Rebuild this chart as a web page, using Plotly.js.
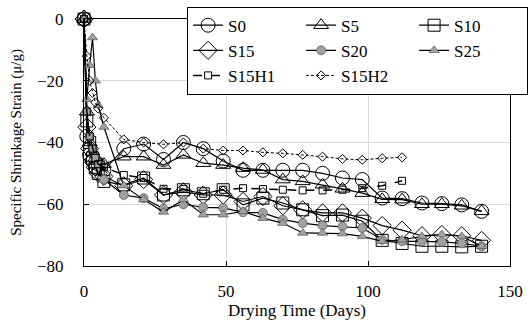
<!DOCTYPE html>
<html>
<head>
<meta charset="utf-8">
<script src="https://cdn.plot.ly/plotly-3.0.1.min.js"></script>
<style>html,body{margin:0;padding:0;background:#fff;}#chart{width:532px;height:325px;}</style>
</head>
<body>
<div id="chart"></div>
<script>
// Drying time (days)
var daysFull = [0,1,2,3,4,5,7,14,21,28,35,42,49,56,63,70,77,84,91,98,105,112,119,126,133,140];
var daysShort = [0,1,2,3,4,5,7,14,21,28,35,42,49,56,63,70,77,84,91,98,105,112];

// Specific shrinkage strain (µ/g)
var S0 = [0,-38,-44,-46,-48,-47,-49,-42,-40.5,-45.5,-40,-42,-46,-49,-49,-49,-49,-50,-51.5,-52,-58,-58.2,-59.6,-59.8,-60.2,-62.3];
var S5 = [0,-30,-40,-43,-45,-46,-47,-44.6,-44.6,-47.3,-44,-46.7,-47.3,-48.3,-48.9,-52,-52.6,-53.7,-55,-56.4,-58.4,-58.5,-60,-60,-60.5,-62.3];
var S10 = [0,-33,-40,-45,-48,-50,-52.6,-53.7,-51.5,-57,-55.3,-56.6,-55.3,-60.2,-58,-59.6,-61.8,-63.7,-63.5,-65.5,-71.7,-72.7,-73.6,-73.6,-73.8,-73.6];
var S15 = [0,-35,-42,-46,-48,-50,-51,-54,-52,-57,-56,-57,-57,-59.1,-57.5,-60.5,-61.8,-62.8,-62.8,-64.5,-66.9,-68.4,-70.2,-69.8,-70.2,-71.7];
var S20 = [0,-30,-38,-42,-45,-47,-52,-57,-58,-61.5,-60,-61,-61.2,-62.6,-62.8,-65,-66.1,-66.9,-67.2,-67.7,-71.5,-72,-72,-72.2,-72.7,-73.6];
var S25 = [0,-26,-15,-6,-20,-28,-35,-54,-58.5,-62.5,-58.5,-63.4,-63.4,-62.3,-64.5,-66.1,-69.3,-69.3,-69.5,-70.4,-72,-71.5,-70.4,-69.8,-70.4,-73.6];
var S15H1 = [0,-30,-38,-42,-45,-47,-48,-50.5,-51.5,-55,-55.1,-56.6,-55.3,-54.8,-55.1,-55.3,-55.5,-55.5,-55.3,-54.8,-54,-52.4];
var S15H2 = [0,-12,-20,-24,-27,-29,-32,-39,-40,-40.6,-40,-42,-42.6,-42.6,-43.2,-43.5,-44,-44.6,-45.3,-45.6,-45.1,-44.8];

var seriesNames = ['S0','S5','S10','S15','S20','S25','S15H1','S15H2'];
var xTickVals = [0,50,100,150];
var yTickVals = [-80,-60,-40,-20,0];

function tr(name, x, y, symbol, size, fill, dash, lw) {
  var gray = fill === '#a0a0a0';
  return {
    type: 'scatter', mode: 'lines+markers', name: name, x: x, y: y,
    cliponaxis: false,
    line: {color: '#000', width: lw, dash: dash},
    marker: {symbol: symbol, size: size, color: fill,
             line: {color: gray ? '#444' : '#000', width: gray ? 0.6 : 1}}
  };
}

var data = [
  tr(seriesNames[0], daysFull, S0, 'circle-open', 14, '#000', 'solid', 1.2),
  tr(seriesNames[1], daysFull, S5, 'triangle-up-open', 13, '#000', 'solid', 1.2),
  tr(seriesNames[2], daysFull, S10, 'square-open', 12, '#000', 'solid', 1.2),
  tr(seriesNames[3], daysFull, S15, 'diamond-open', 14, '#000', 'solid', 1.2),
  tr(seriesNames[4], daysFull, S20, 'circle', 9, '#a0a0a0', 'solid', 1.2),
  tr(seriesNames[5], daysFull, S25, 'triangle-up', 9, '#a0a0a0', 'solid', 1.2),
  tr(seriesNames[6], daysShort, S15H1, 'square-open', 7, '#000', 'dash', 1.5),
  tr(seriesNames[7], daysShort, S15H2, 'diamond-open', 7, '#000', '3px,2px', 1)
];

var fontFam = 'Liberation Serif, Times New Roman, serif';
var layout = {
  width: 532, height: 325,
  margin: {l: 84, r: 22, t: 18.5, b: 58.5, autoexpand: false},
  paper_bgcolor: '#fff', plot_bgcolor: '#fff',
  font: {family: fontFam, color: '#000', size: 17},
  showlegend: true,
  legend: {
    orientation: 'h', x: 0.242, y: 1.05, xanchor: 'left', yanchor: 'top',
    bgcolor: '#fff', bordercolor: '#000', borderwidth: 1,
    font: {family: fontFam, size: 17, color: '#000'},
    entrywidth: 68, tracegroupgap: 0, itemwidth: 30
  },
  xaxis: {
    range: [0, 150], tickvals: xTickVals, ticks: 'inside', ticklen: 5, tickcolor: '#000',
    tickfont: {family: fontFam, size: 17, color: '#000'},
    showline: true, mirror: true, linecolor: '#000', linewidth: 1,
    showgrid: true, gridcolor: '#d9d9d9', gridwidth: 1, zeroline: false,
    ticklabelstandoff: 10,
    title: {text: 'Drying Time (Days)', font: {family: fontFam, size: 17, color: '#000'}, standoff: 0}
  },
  yaxis: {
    range: [-80, 0], tickvals: yTickVals, ticks: 'inside', ticklen: 5, tickcolor: '#000',
    tickfont: {family: fontFam, size: 17, color: '#000'},
    showline: true, mirror: true, linecolor: '#000', linewidth: 1,
    showgrid: true, gridcolor: '#d9d9d9', gridwidth: 1, zeroline: false,
    ticklabelstandoff: 16,
    title: {text: 'Specific Shrinkage Strain (μ/g)', font: {family: fontFam, size: 15, color: '#000'}, standoff: 11}
  }
};

Plotly.newPlot('chart', data, layout, {displayModeBar: false, staticPlot: true});
</script>
</body>
</html>
